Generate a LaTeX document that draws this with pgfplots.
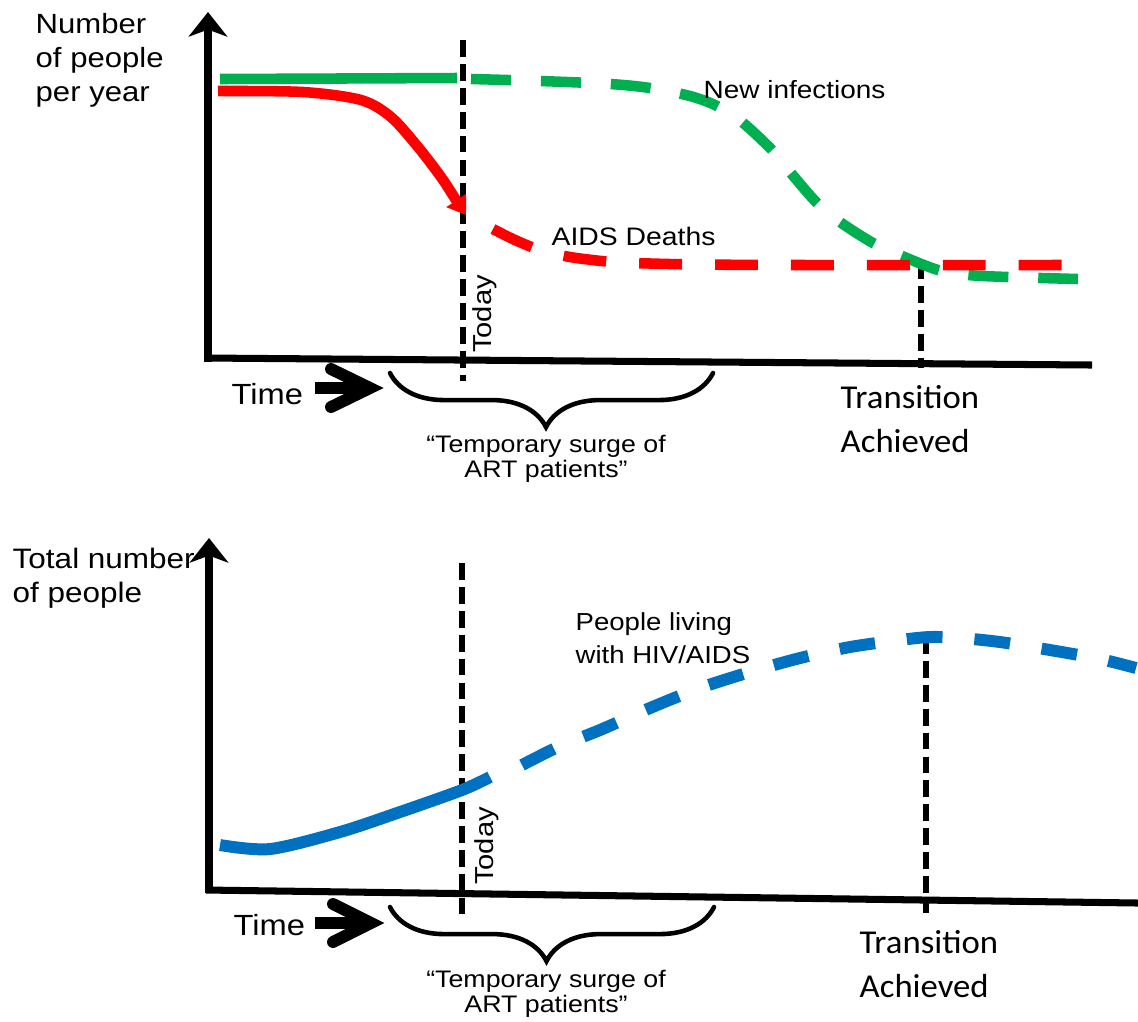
\documentclass[border=0pt]{standalone}
\usepackage{fontspec}
\setmainfont{Liberation Sans}[FakeStretch=1.12]
\newfontfamily\calib{Carlito}[FakeStretch=1.04]
\usepackage{pgfplots}
\pgfplotsset{compat=1.18}
\usetikzlibrary{arrows.meta,decorations.pathreplacing}

\definecolor{hivgreen}{RGB}{0,176,80}
\definecolor{hivred}{RGB}{255,0,0}
\definecolor{hivblue}{RGB}{0,112,192}

% canvas in pixel units of the original figure (1 px = 0.1 mm), y runs downwards
\tikzset{
  axisline/.style={black, line width=2pt},
  yarrow/.style={axisline, -{Stealth[length=7pt,width=11pt,inset=2pt]}},
  marker/.style={black, line width=1.7pt, dash pattern=on 4.8pt off 2pt},
  lbl/.style={anchor=base west, inner sep=0pt},
  clbl/.style={anchor=base, inner sep=0pt},
  surge/.style={black, line width=1.3pt, line cap=round, decorate,
    decoration={brace, mirror, amplitude=15.4pt, aspect=0.483}},
}

\begin{document}
\begin{tikzpicture}
\begin{axis}[
  width=11.38cm, height=10.21cm, scale only axis,
  xmin=0, xmax=1138, ymin=0, ymax=1021, y dir=reverse,
  hide axis, clip=false,
]
%% ---------- upper panel: people per year ----------
\addplot[yarrow] coordinates {(208,362) (208,12)};
\addplot[axisline] coordinates {(205,358) (1092,365)};

\addplot[marker] coordinates {(463,40) (463,381)};
\addplot[marker] coordinates {(921,262) (921,368)};

% new infections
\addplot[hivgreen, line width=3pt] coordinates {(220,79) (457,78)};
\addplot[hivgreen, line width=3pt, smooth, dash pattern=on 11.4pt off 8.5pt] coordinates {
  (471,79) (540,81) (610,84) (650,88) (690,96) (717,106) (742,122) (772,150)
  (790,172) (817,203) (840,222) (873,243) (902,256) (938,270) (968,275)
  (1008,277) (1078,279)};

% AIDS deaths
\addplot[hivred, line width=3pt, smooth, -{Triangle[length=5pt,width=6.5pt]}] coordinates {
  (218,91) (303,92) (361,100) (391,117) (418,147) (441,177) (456,200) (466,215)};
\addplot[hivred, line width=3pt, smooth, dash pattern=on 12.2pt off 9.4pt] coordinates {
  (493,229) (515,240) (540,250) (570,257) (612,262) (650,263.5) (700,264.5)
  (800,265) (1072,265)};

\node[lbl, font=\fontsize{7.9}{9}\selectfont] at (axis cs:35,33) {Number};
\node[lbl, font=\fontsize{7.9}{9}\selectfont] at (axis cs:35,67) {of people};
\node[lbl, font=\fontsize{7.9}{9}\selectfont] at (axis cs:35,101) {per year};

\node[lbl, font=\fontsize{7.1}{8}\selectfont] at (axis cs:703,98) {New infections};
\node[lbl, font=\fontsize{7.2}{8}\selectfont] at (axis cs:551,245) {AIDS Deaths};
\node[rotate=90, inner sep=0pt, font=\fontsize{7.4}{8}\selectfont] at (axis cs:485,314) {Today};

\node[lbl, font=\fontsize{8.3}{9}\selectfont] at (axis cs:231,404) {Time};
\draw[black, line width=3.4pt] (axis cs:315,388) -- (axis cs:360,388);
\draw[black, line width=3.4pt, line cap=round, line join=miter]
  (axis cs:331,369) -- (axis cs:370,388) -- (axis cs:331,407);

\draw[surge] (axis cs:390,373) -- (axis cs:713,373);
\node[clbl, font=\fontsize{6.8}{7}\selectfont] at (axis cs:546,452) {“Temporary surge of};
\node[clbl, font=\fontsize{6.8}{7}\selectfont] at (axis cs:546,477) {ART patients”};

\node[lbl, font=\calib\fontsize{9.5}{10}\selectfont] at (axis cs:840,408) {Transition};
\node[lbl, font=\calib\fontsize{9.5}{10}\selectfont] at (axis cs:840,452) {Achieved};

%% ---------- lower panel: total number of people ----------
\addplot[yarrow] coordinates {(209,893) (209,538)};
\addplot[axisline] coordinates {(206,890) (1138,903)};

\addplot[marker] coordinates {(462,563) (462,914)};
\addplot[marker] coordinates {(926,637) (926,913)};

% people living with HIV/AIDS
\addplot[hivblue, line width=3.4pt, smooth] coordinates {
  (220,845) (270,849) (340,832) (400,812) (462,790) (490,777)};
\addplot[hivblue, line width=3.4pt, smooth, dash pattern=on 10.2pt off 9.1pt] coordinates {
  (522,765) (560,746) (600,730) (650,708) (700,688) (750,672) (800,658)
  (850,647) (900,640) (930,637) (960,638) (1000,642) (1050,650) (1100,659)
  (1136,668)};

\node[lbl, font=\fontsize{8}{9}\selectfont] at (axis cs:12,568) {Total number};
\node[lbl, font=\fontsize{8}{9}\selectfont] at (axis cs:12,602) {of people};

\node[lbl, font=\fontsize{7}{8}\selectfont] at (axis cs:575,630) {People living};
\node[lbl, font=\fontsize{7}{8}\selectfont] at (axis cs:575,663) {with HIV/AIDS};
\node[rotate=90, inner sep=0pt, font=\fontsize{7.4}{8}\selectfont] at (axis cs:487,846) {Today};

\node[lbl, font=\fontsize{8.3}{9}\selectfont] at (axis cs:233,935) {Time};
\draw[black, line width=3.4pt] (axis cs:315,923) -- (axis cs:360,923);
\draw[black, line width=3.4pt, line cap=round, line join=miter]
  (axis cs:333,904) -- (axis cs:371,923) -- (axis cs:333,942);

\draw[surge] (axis cs:390,907) -- (axis cs:714,907);
\node[clbl, font=\fontsize{6.8}{7}\selectfont] at (axis cs:546,987) {“Temporary surge of};
\node[clbl, font=\fontsize{6.8}{7}\selectfont] at (axis cs:546,1012) {ART patients”};

\node[lbl, font=\calib\fontsize{9.5}{10}\selectfont] at (axis cs:859,953) {Transition};
\node[lbl, font=\calib\fontsize{9.5}{10}\selectfont] at (axis cs:859,997) {Achieved};
\end{axis}
\pgfresetboundingbox
\path (current axis.south west) rectangle (current axis.north east);
\end{tikzpicture}
\end{document}
